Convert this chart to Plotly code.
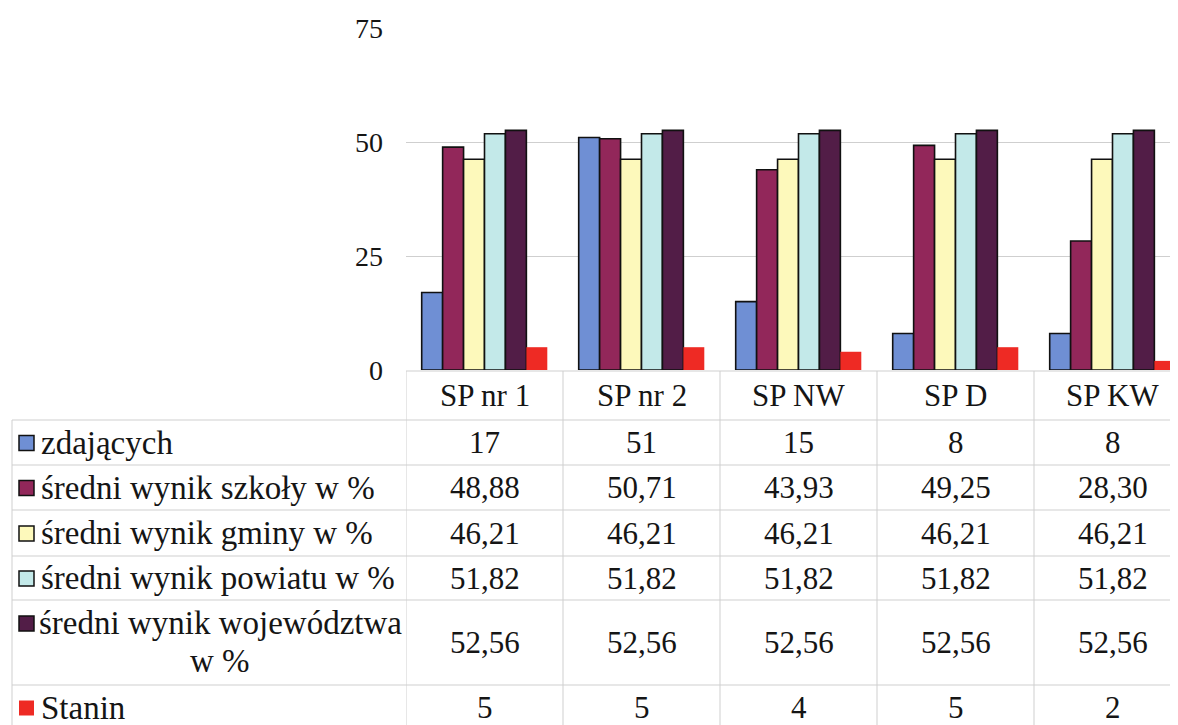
import plotly.graph_objects as go

# ---------------- data ----------------
schools = ["SP nr 1", "SP nr 2", "SP NW", "SP D", "SP KW"]
zdajacych = [17, 51, 15, 8, 8]
wynik_szkoly = [48.88, 50.71, 43.93, 49.25, 28.30]
wynik_gminy = [46.21, 46.21, 46.21, 46.21, 46.21]
wynik_powiatu = [51.82, 51.82, 51.82, 51.82, 51.82]
wynik_wojewodztwa = [52.56, 52.56, 52.56, 52.56, 52.56]
stanin = [5, 5, 4, 5, 2]

series_names = ["zdających", "średni wynik szkoły w %", "średni wynik gminy w %",
                "średni wynik powiatu w %", "średni wynik województwa<br>w %", "Stanin"]
series_values = [zdajacych, wynik_szkoly, wynik_gminy, wynik_powiatu, wynik_wojewodztwa, stanin]
series_decimals = [0, 2, 2, 2, 2, 0]
y_ticks = [0, 25, 50, 75]

# ---------------- style ----------------
colors = ["#6f8fd4", "#92275a", "#fdf9bb", "#c3e9e9", "#521d47", "#ee2a24"]
outlined = [True, True, True, True, True, False]
FONT = "Liberation Serif, Tinos, Times New Roman, DejaVu Serif, serif"
OFF = 8                     # page body margin in the browser
W, H = 1178, 725
S_PL, S_PT, S_PB = 406, 28, 370   # plot area in screen px
PL = S_PL - OFF
PT = S_PT - OFF
PB = S_PB - OFF
PR = W                      # plot area runs to the figure's right edge
CAT_W = 157                 # px per category
GRID = "#cfcfcf"
LABEL_SIZE = 33
CELL_SIZE = 31

def px_x(sx):
    return (sx - OFF - PL) / (PR - PL)

def px_y(sy):
    return (PB - (sy - OFF)) / (PB - PT)

fig = go.Figure()
for name, vals, col, ol in zip(series_names, series_values, colors, outlined):
    fig.add_trace(go.Bar(
        x=schools, y=vals, name=name.replace("<br>", " "),
        marker=dict(color=col, line=dict(color="#111111", width=1.6 if ol else 0)),
        showlegend=False,
    ))

x_hi = -0.5 + (PR - PL) / CAT_W

fig.update_layout(
    width=W, height=H,
    margin=dict(l=PL, r=W - PR, t=PT, b=H - PB, pad=0),
    paper_bgcolor="white", plot_bgcolor="white",
    barmode="group", bargap=0.2, bargroupgap=0,
    font=dict(family=FONT, color="#151515"),
    xaxis=dict(range=[-0.5, x_hi], showticklabels=False, showgrid=False,
               zeroline=False, showline=False, ticks=""),
    yaxis=dict(range=[0, 75], tickvals=y_ticks, ticktext=[str(t) for t in y_ticks],
               tickfont=dict(family=FONT, size=28, color="#151515"),
               showgrid=True, gridcolor=GRID, gridwidth=1, zeroline=False,
               showline=False, ticks="", ticklabelstandoff=22),
)

shapes = []
annotations = []
line_style = dict(color=GRID, width=1)

# table geometry (screen px)
header = (371, 420)
rows = [(420, 465), (465, 510), (510, 556), (556, 600), (600, 685), (685, 730)]
left_border = 12

shapes.append(dict(type="line", xref="paper", yref="paper",
                   x0=0, x1=1, y0=px_y(header[0]), y1=px_y(header[0]), line=line_style))
for top, _ in rows:
    shapes.append(dict(type="line", xref="paper", yref="paper",
                       x0=px_x(left_border), x1=1, y0=px_y(top), y1=px_y(top), line=line_style))
shapes.append(dict(type="line", xref="paper", yref="paper",
                   x0=px_x(left_border), x1=px_x(left_border),
                   y0=px_y(rows[0][0]), y1=px_y(H + 20), line=line_style))
for i in range(len(schools) + 1):
    shapes.append(dict(type="line", xref="x", yref="paper",
                       x0=i - 0.5, x1=i - 0.5, y0=px_y(header[0]), y1=px_y(H + 20),
                       line=line_style))

for s in schools:
    annotations.append(dict(x=s, y=px_y((header[0] + header[1]) / 2), xref="x", yref="paper",
                            text=s, showarrow=False, xanchor="center", yanchor="middle",
                            font=dict(family=FONT, size=CELL_SIZE)))

for r, (name, vals, dec, col, ol) in enumerate(zip(series_names, series_values,
                                                    series_decimals, colors, outlined)):
    top, bot = rows[r]
    cy = (top + bot) / 2
    if "<br>" in name:
        first, second = name.split("<br>")
        annotations.append(dict(x=px_x(220), y=px_y(623), xref="paper", yref="paper",
                                text=first, showarrow=False, xanchor="center", yanchor="middle",
                                font=dict(family=FONT, size=LABEL_SIZE)))
        annotations.append(dict(x=px_x(220), y=px_y(661), xref="paper", yref="paper",
                                text=second, showarrow=False, xanchor="center", yanchor="middle",
                                font=dict(family=FONT, size=LABEL_SIZE)))
        sw_cy = 623
    else:
        annotations.append(dict(x=px_x(39), y=px_y(cy), xref="paper", yref="paper",
                                text=name, showarrow=False, xanchor="left", yanchor="middle",
                                font=dict(family=FONT, size=LABEL_SIZE)))
        sw_cy = cy
    shapes.append(dict(type="rect", xref="paper", yref="paper",
                       x0=px_x(19), x1=px_x(34), y0=px_y(sw_cy - 7), y1=px_y(sw_cy + 8),
                       fillcolor=col,
                       line=dict(color="#111111", width=1.5 if ol else 0)))
    for s, v in zip(schools, vals):
        txt = f"{v:.{dec}f}".replace(".", ",")
        annotations.append(dict(x=s, y=px_y(cy), xref="x", yref="paper",
                                text=txt, showarrow=False, xanchor="center", yanchor="middle",
                                font=dict(family=FONT, size=CELL_SIZE)))

fig.update_layout(shapes=shapes, annotations=annotations)
fig.write_html("out.html")
